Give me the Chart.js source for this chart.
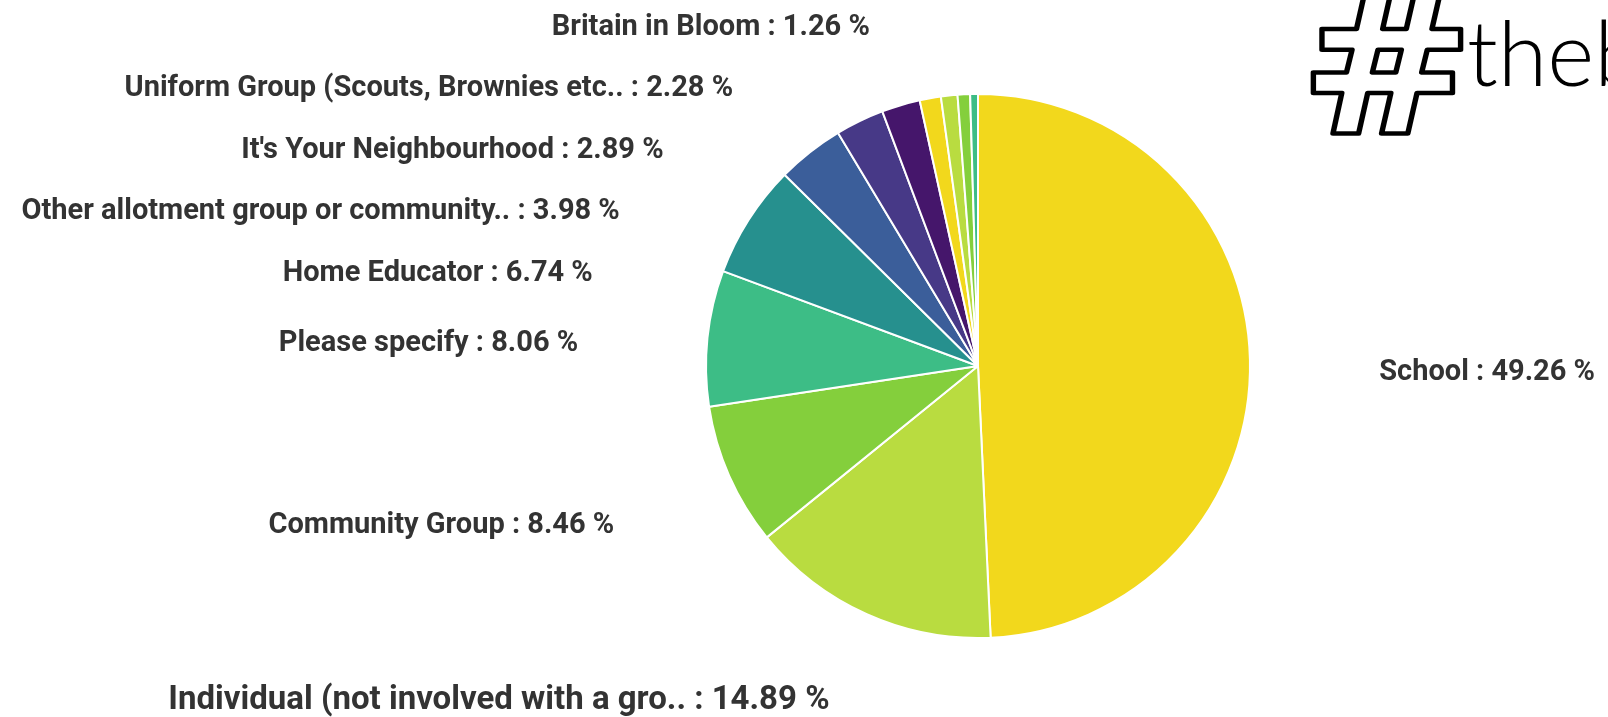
<!DOCTYPE html>
<html lang="en">
<head>
    <meta charset="UTF-8">
    <title>Group type</title>
    <style>
        body {
            margin: 0;
            background: #ffffff;
        }
        .wrap {
            width: 1608px;
            height: 717px;
        }
    </style>
</head>
<body>
    <div class="wrap">
        <canvas id="groupChart"></canvas>
    </div>

    <script src="https://cdn.jsdelivr.net/npm/chart.js"></script>
    <script>
        // Data (share of respondents, %)
        const categories = [
            'School',
            'Individual (not involved with a gro..',
            'Community Group',
            'Please specify',
            'Home Educator',
            'Other allotment group or community..',
            "It's Your Neighbourhood",
            'Uniform Group (Scouts, Brownies etc..',
            'Britain in Bloom',
            'Unlabelled A',
            'Unlabelled B',
            'Unlabelled C'
        ];
        const shares = [49.26, 14.89, 8.46, 8.06, 6.74, 3.98, 2.89, 2.28, 1.26, 0.98, 0.74, 0.46];

        // 8 colour palette, repeats after the eighth slice
        const palette = ['#f2d81c', '#b9dc40', '#84cf3c', '#3dbd86', '#26908e', '#3b5e9a', '#473987', '#45166b'];

        // Labels outside the pie, left side ones stacked so they don't overlap
        const pieLabels = {
            id: 'pieLabels',
            afterDatasetsDraw(chart) {
                const ctx = chart.ctx;
                const arcs = chart.getDatasetMeta(0).data;
                const cx = arcs[0].x, cy = arcs[0].y, r = arcs[0].outerRadius;
                const items = [];
                arcs.forEach((arc, i) => {
                    if (shares[i] < 1) return; // tiny slices have no label
                    const mid = (arc.startAngle + arc.endAngle) / 2;
                    items.push({
                        text: categories[i] + ' : ' + shares[i].toFixed(2) + ' %',
                        size: i === 1 ? 33 : 29, // bottom label is a bit bigger in the original
                        left: Math.cos(mid) < 0,
                        y: cy + r * 0.055 + r * 1.32 * Math.sin(mid)
                    });
                });
                let prev = -Infinity;
                items.filter(d => d.left).sort((a, b) => a.y - b.y).forEach(d => {
                    d.y = Math.max(d.y, prev + 61.5);
                    prev = d.y;
                });

                ctx.save();
                ctx.fillStyle = '#333333';
                ctx.textBaseline = 'middle';
                items.forEach(d => {
                    // text end sits on an ellipse around the pie
                    const k = Math.min(1, Math.abs(d.y - cy - r * 0.03) / (r * 1.3235));
                    const dx = r * 1.475 * Math.sqrt(1 - k * k);
                    // keep the bottom label inside the canvas
                    const ty = Math.min(d.y, chart.height - d.size * 0.5);
                    ctx.font = 'bold ' + d.size + 'px Roboto';
                    ctx.textAlign = d.left ? 'right' : 'left';
                    ctx.fillText(d.text, d.left ? cx - dx : cx + dx, ty);
                });
                ctx.restore();
            }
        };

        // "#theb..." hashtag in the top right corner
        const hashTag = {
            id: 'hashTag',
            afterDraw(chart) {
                const ctx = chart.ctx;
                ctx.save();
                ctx.font = 'bold 200px "Open Sans"';
                const m = ctx.measureText('#');
                const gw = m.actualBoundingBoxLeft + m.actualBoundingBoxRight;
                const gh = m.actualBoundingBoxAscent + m.actualBoundingBoxDescent;
                const sx = 148 / gw, sy = 145 / gh;
                ctx.translate(1313, -12);
                ctx.scale(sx, sy);
                ctx.lineWidth = 4.5 / Math.min(sx, sy);
                ctx.lineJoin = 'round';
                ctx.strokeStyle = '#000000';
                ctx.textBaseline = 'alphabetic';
                ctx.strokeText('#', m.actualBoundingBoxLeft, m.actualBoundingBoxAscent);
                ctx.restore();

                ctx.save();
                ctx.font = '300 90px Lato';
                ctx.fillStyle = '#000000';
                ctx.textBaseline = 'alphabetic';
                ctx.fillText('theb', 1467, 86);
                ctx.restore();
            }
        };

        const ctx = document.getElementById('groupChart').getContext('2d');
        const groupChart = new Chart(ctx, {
            type: 'pie',
            data: {
                labels: categories,
                datasets: [{
                    data: shares,
                    backgroundColor: shares.map((v, i) => palette[i % palette.length]),
                    borderColor: '#ffffff',
                    borderWidth: 2
                }]
            },
            options: {
                responsive: true,
                maintainAspectRatio: false,
                animation: false,
                layout: {
                    padding: { left: 705, right: 357, top: 93, bottom: 78 }
                },
                plugins: {
                    legend: { display: false },
                    tooltip: { enabled: false }
                }
            },
            plugins: [pieLabels, hashTag]
        });
    </script>
</body>
</html>
